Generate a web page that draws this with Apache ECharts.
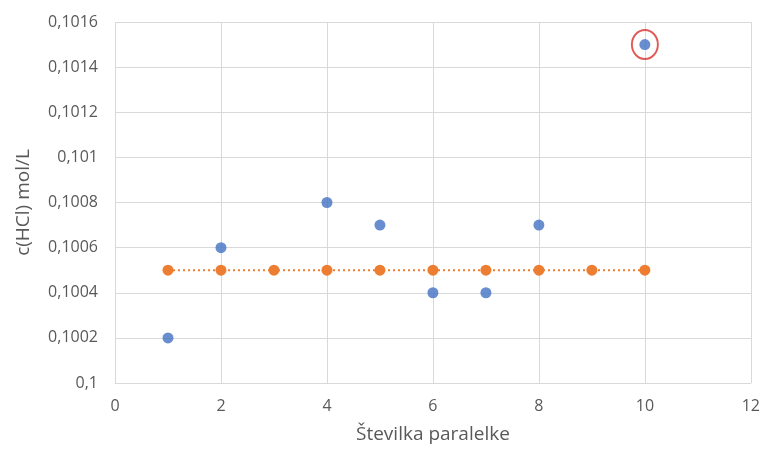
<!DOCTYPE html>
<html><head><meta charset="utf-8">
<script src="https://cdn.jsdelivr.net/npm/echarts@6/dist/echarts.min.js"></script>
<style>html,body{margin:0;padding:0;background:#fff}#c{width:763px;height:450px}</style>
</head><body><div id="c"></div>
<script>
const blueX = [1, 2, 4, 5, 6, 7, 8, 10];
const blueY = [0.1002, 0.1006, 0.1008, 0.1007, 0.1004, 0.1004, 0.1007, 0.1015];
const orangeX = [1, 2, 3, 4, 5, 6, 7, 8, 9, 10];
const orangeY = [0.1005, 0.1005, 0.1005, 0.1005, 0.1005, 0.1005, 0.1005, 0.1005, 0.1005, 0.1005];
const highlightX = [10];
const highlightY = [0.1015];
const xAxisTitle = 'Številka paralelke';
const yAxisTitle = 'c(HCl) mol/L';

const zip = (a, b) => a.map((v, i) => [v, b[i]]);
const fmtY = v => { let s = v.toFixed(4).replace(/0+$/, ''); if (s.endsWith('.')) s = s.slice(0, -1); return s.replace('.', ','); };
const FONT = 'Open Sans';
const chart = echarts.init(document.getElementById('c'));
chart.setOption({
  animation: false,
  textStyle: { fontFamily: FONT },
  grid: { left: 115, right: 11, top: 22, bottom: 67 },
  xAxis: {
    type: 'value', min: 0, max: 12, interval: 2,
    name: xAxisTitle, nameLocation: 'middle', nameGap: 42,
    nameTextStyle: { color: '#595959', fontSize: 19, fontFamily: FONT },
    axisLine: { show: true, lineStyle: { color: '#d9d9d9' } },
    axisTick: { show: false },
    axisLabel: { color: '#595959', fontSize: 16, margin: 15 },
    splitLine: { show: true, lineStyle: { color: '#d9d9d9' } }
  },
  yAxis: {
    type: 'value', min: 0.1, max: 0.1016, interval: 0.0002,
    name: yAxisTitle, nameLocation: 'middle', nameGap: 82, nameRotate: 90,
    nameTextStyle: { color: '#595959', fontSize: 19, fontFamily: FONT },
    axisLine: { show: false },
    axisTick: { show: false },
    axisLabel: { color: '#595959', fontSize: 16, margin: 17, formatter: fmtY },
    splitLine: { show: true, lineStyle: { color: '#d9d9d9' } }
  },
  series: [
    {
      type: 'line', data: zip(orangeX, orangeY), symbol: 'circle', symbolSize: 11,
      itemStyle: { color: '#ED7D31' },
      lineStyle: { color: '#ED7D31', width: 2, type: [2, 3] }, z: 2
    },
    {
      type: 'scatter', data: zip(blueX, blueY), symbol: 'circle', symbolSize: 11,
      itemStyle: { color: '#4472C4' }, z: 3
    },
    {
      type: 'scatter', data: zip(highlightX, highlightY), symbol: 'circle', symbolSize: [26, 29],
      itemStyle: { color: 'rgba(0,0,0,0)', borderColor: '#D9302B', borderWidth: 2 }, z: 4, silent: true
    }
  ]
});
</script></body></html>
